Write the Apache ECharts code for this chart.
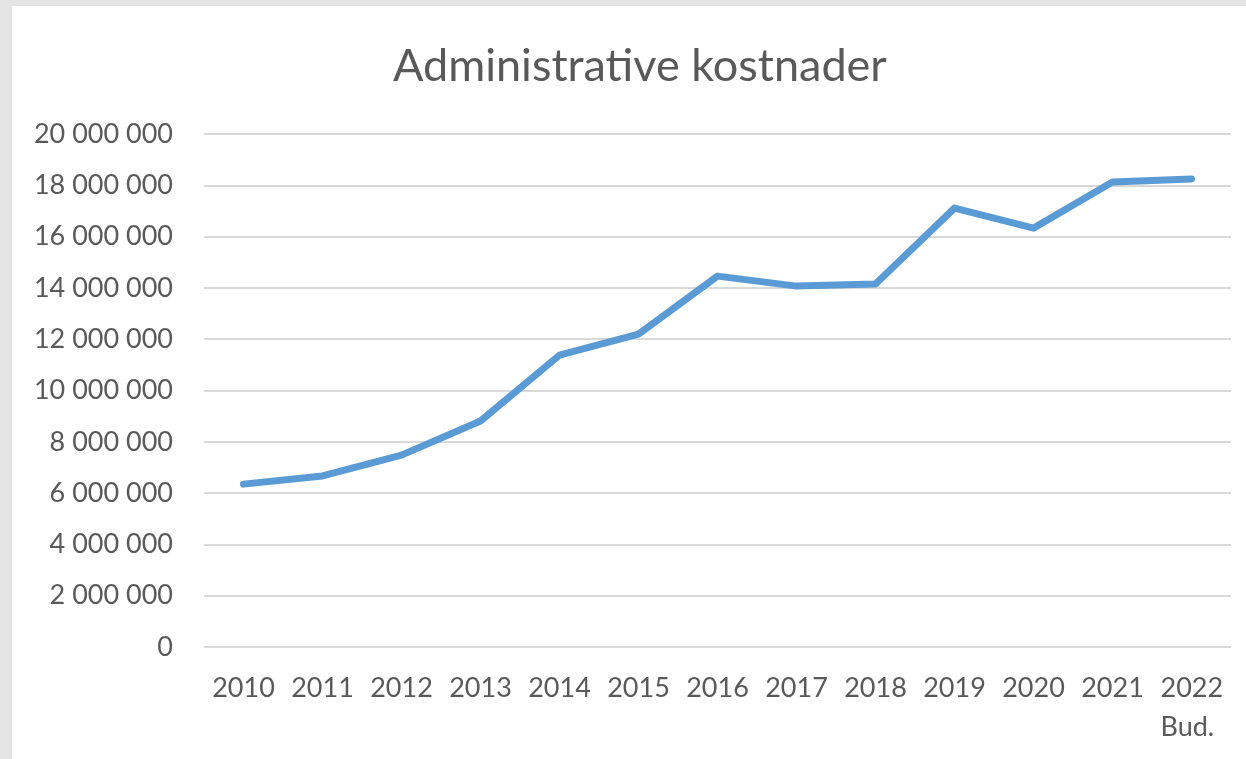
<!DOCTYPE html>
<html>
<head>
<meta charset="utf-8">
<script src="https://cdn.jsdelivr.net/npm/echarts@6/dist/echarts.min.js"></script>
<style>
  html, body { margin: 0; padding: 0; width: 1246px; height: 759px; background: #e4e4e4; overflow: hidden; }
  #main { position: absolute; left: 12px; top: 6px; width: 1234px; height: 753px; background: #fff; }
</style>
</head>
<body>
<div id="main"></div>
<script>
var years = ['2010', '2011', '2012', '2013', '2014', '2015', '2016', '2017', '2018', '2019', '2020', '2021', '2022\nBud.'];
var kostnader = [6350000, 6670000, 7480000, 8810000, 11380000, 12200000, 14460000, 14070000, 14150000, 17110000, 16330000, 18130000, 18250000];
var yTicks = { min: 0, max: 20000000, interval: 2000000 };

function fmt(v) { // mellomrom som tusenskille
    return String(v).replace(/\B(?=(\d{3})+(?!\d))/g, ' ');
}

var myChart = echarts.init(document.getElementById('main'));
var options = {
    animation: false,
    title: {
        text: 'Administrative kostnader',
        left: 376,
        top: 33,
        textStyle: { fontFamily: 'Lato', fontSize: 45, fontWeight: 'normal', color: '#595959' }
    },
    grid: { left: 192, right: 15, top: 128, bottom: 112 },
    xAxis: {
        type: 'category',
        data: years,
        boundaryGap: true,
        axisLine: { show: false },
        axisTick: { show: false },
        axisLabel: {
            interval: 0,
            margin: 22,
            lineHeight: 39,
            fontFamily: 'Lato',
            fontSize: 27,
            color: '#595959',
            formatter: function (v) {
                var parts = v.split('\n');
                if (parts.length > 1) return '{a|' + parts[0] + '}\n{a|' + parts[1] + '}';
                return v;
            },
            rich: {
                a: { width: 62, align: 'left', lineHeight: 39, fontFamily: 'Lato', fontSize: 27, color: '#595959' }
            }
        }
    },
    yAxis: {
        type: 'value',
        min: yTicks.min,
        max: yTicks.max,
        interval: yTicks.interval,
        axisLine: { show: false },
        axisTick: { show: false },
        splitLine: { lineStyle: { color: '#d9d9d9', width: 2 } },
        axisLabel: {
            margin: 31,
            fontFamily: 'Lato',
            fontSize: 27,
            color: '#595959',
            formatter: fmt
        }
    },
    series: [{
        name: 'Administrative kostnader',
        type: 'line',
        data: kostnader,
        showSymbol: false,
        symbol: 'none',
        lineStyle: { color: '#5b9bd5', width: 7, cap: 'round', join: 'round' }
    }]
};
myChart.setOption(options);
</script>
</body>
</html>
